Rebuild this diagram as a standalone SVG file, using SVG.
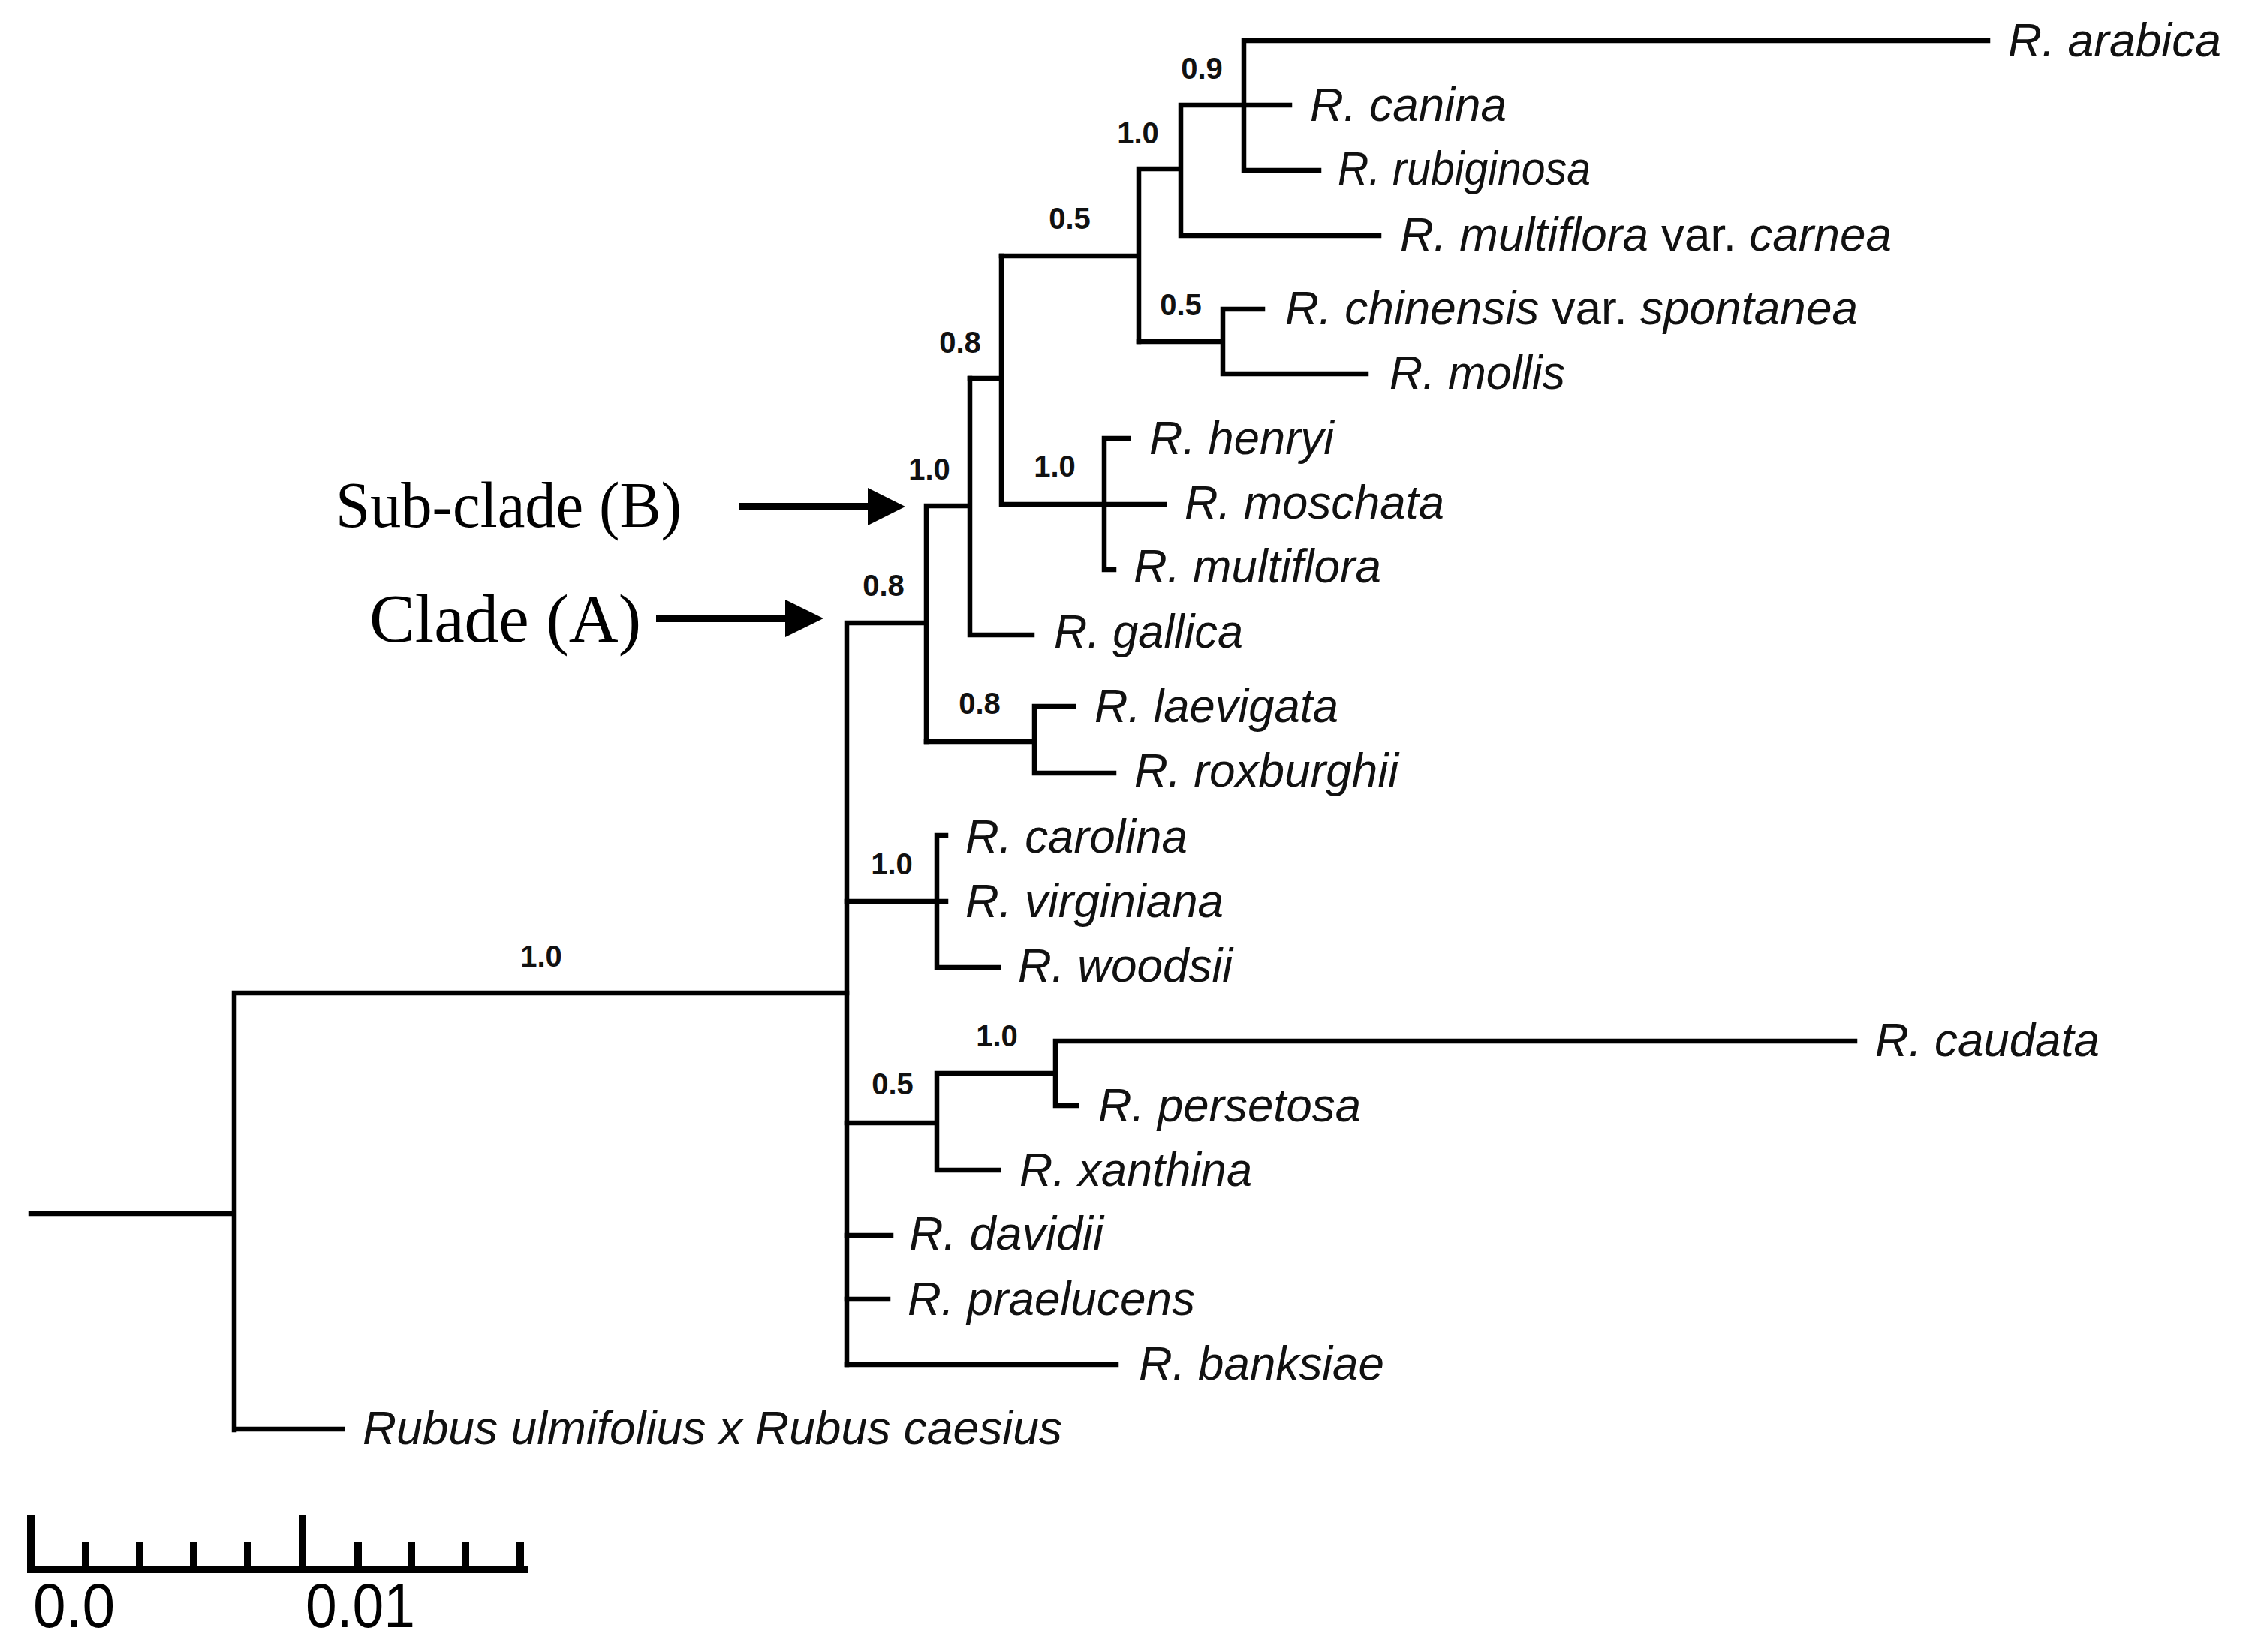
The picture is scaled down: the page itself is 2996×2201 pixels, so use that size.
<svg xmlns="http://www.w3.org/2000/svg" width="2996" height="2201" viewBox="0 0 2996 2201">
<style>
.br{fill:none;stroke:#000;stroke-width:6.5;stroke-linecap:square}
.tx{font-family:"Liberation Sans",Arial,sans-serif;font-style:italic;font-size:63px;fill:#111}
.up{font-style:normal}
.sv{font-family:"Liberation Sans",Arial,sans-serif;font-weight:bold;font-size:40px;fill:#111;text-anchor:middle}
.cl{font-family:"Liberation Serif","Times New Roman",serif;fill:#000}
.sc{font-family:"Liberation Sans",Arial,sans-serif;font-size:84px;fill:#000}
</style>
<rect width="2996" height="2201" fill="#fff"/>
<g id="connectors" class="br">
<path d="M41 1617H312M312 1323V1905M312 1323H1128M312 1904H456"/>
<path d="M1128 830V1818M1128 830H1234M1234 674V988M1234 674H1292M1292 504V846M1292 846H1375"/>
<path d="M1292 504H1334M1334 341V672M1334 672H1551M1471 584V759M1471 584H1503M1471 759H1484"/>
<path d="M1334 341H1517M1517 225V455M1517 225H1573M1573 140V314M1573 140H1718M1657 54V227M1657 54H2648M1657 227H1757M1573 314H1837"/>
<path d="M1517 455H1629M1629 412V498M1629 412H1682M1629 498H1820"/>
<path d="M1234 988H1378M1378 941V1030M1378 941H1430M1378 1030H1484"/>
<path d="M1128 1201H1260M1248 1113V1289M1248 1113H1260M1248 1289H1330"/>
<path d="M1128 1496H1248M1248 1430V1559M1248 1430H1406M1406 1387V1473M1406 1387H2471M1406 1473H1434M1248 1559H1330"/>
<path d="M1128 1646H1187M1128 1731H1183M1128 1818H1487"/>
</g>
<g id="taxa">
<g id="t-arabica"><text class="tx" x="2675" y="75" textLength="284" lengthAdjust="spacingAndGlyphs">R. arabica</text></g>
<g id="t-canina"><text class="tx" x="1745" y="161" textLength="262" lengthAdjust="spacingAndGlyphs">R. canina</text></g>
<g id="t-rubiginosa"><text class="tx" x="1782" y="246" textLength="337" lengthAdjust="spacingAndGlyphs">R. rubiginosa</text></g>
<g id="t-carnea"><text class="tx" x="1865" y="334" textLength="655" lengthAdjust="spacingAndGlyphs">R. multiflora <tspan class="up">var.</tspan> carnea</text></g>
<g id="t-chinensis"><text class="tx" x="1712" y="432" textLength="763" lengthAdjust="spacingAndGlyphs">R. chinensis <tspan class="up">var.</tspan> spontanea</text></g>
<g id="t-mollis"><text class="tx" x="1851" y="518" textLength="234" lengthAdjust="spacingAndGlyphs">R. mollis</text></g>
<g id="t-henryi"><text class="tx" x="1531" y="605" textLength="246" lengthAdjust="spacingAndGlyphs">R. henryi</text></g>
<g id="t-moschata"><text class="tx" x="1578" y="691" textLength="346" lengthAdjust="spacingAndGlyphs">R. moschata</text></g>
<g id="t-multiflora"><text class="tx" x="1510" y="776" textLength="330" lengthAdjust="spacingAndGlyphs">R. multiflora</text></g>
<g id="t-gallica"><text class="tx" x="1404" y="863" textLength="252" lengthAdjust="spacingAndGlyphs">R. gallica</text></g>
<g id="t-laevigata"><text class="tx" x="1458" y="962" textLength="325" lengthAdjust="spacingAndGlyphs">R. laevigata</text></g>
<g id="t-roxburghii"><text class="tx" x="1511" y="1048" textLength="352" lengthAdjust="spacingAndGlyphs">R. roxburghii</text></g>
<g id="t-carolina"><text class="tx" x="1286" y="1136" textLength="296" lengthAdjust="spacingAndGlyphs">R. carolina</text></g>
<g id="t-virginiana"><text class="tx" x="1286" y="1222" textLength="344" lengthAdjust="spacingAndGlyphs">R. virginiana</text></g>
<g id="t-woodsii"><text class="tx" x="1356" y="1308" textLength="286" lengthAdjust="spacingAndGlyphs">R. woodsii</text></g>
<g id="t-caudata"><text class="tx" x="2498" y="1407" textLength="299" lengthAdjust="spacingAndGlyphs">R. caudata</text></g>
<g id="t-persetosa"><text class="tx" x="1463" y="1494" textLength="350" lengthAdjust="spacingAndGlyphs">R. persetosa</text></g>
<g id="t-xanthina"><text class="tx" x="1358" y="1580" textLength="310" lengthAdjust="spacingAndGlyphs">R. xanthina</text></g>
<g id="t-davidii"><text class="tx" x="1211" y="1665" textLength="259" lengthAdjust="spacingAndGlyphs">R. davidii</text></g>
<g id="t-praelucens"><text class="tx" x="1209" y="1752" textLength="383" lengthAdjust="spacingAndGlyphs">R. praelucens</text></g>
<g id="t-banksiae"><text class="tx" x="1517" y="1838" textLength="327" lengthAdjust="spacingAndGlyphs">R. banksiae</text></g>
<g id="t-rubus"><text class="tx" x="483" y="1924" textLength="932" lengthAdjust="spacingAndGlyphs">Rubus ulmifolius x Rubus caesius</text></g>
</g>
<g id="support">
<g id="n-root"><text class="sv" x="721" y="1288">1.0</text></g>
<g id="n-cladeA"><text class="sv" x="1177" y="794">0.8</text></g>
<g id="n-subB"><text class="sv" x="1238" y="639">1.0</text></g>
<g id="n-upper08"><text class="sv" x="1279" y="470">0.8</text></g>
<g id="n-upper05"><text class="sv" x="1425" y="305">0.5</text></g>
<g id="n-canina10"><text class="sv" x="1516" y="191">1.0</text></g>
<g id="n-arabica09"><text class="sv" x="1601" y="105">0.9</text></g>
<g id="n-chinensis05"><text class="sv" x="1573" y="420">0.5</text></g>
<g id="n-henryi10"><text class="sv" x="1405" y="635">1.0</text></g>
<g id="n-laevigata08"><text class="sv" x="1305" y="951">0.8</text></g>
<g id="n-carolina10"><text class="sv" x="1188" y="1165">1.0</text></g>
<g id="n-xanthina05"><text class="sv" x="1189" y="1458">0.5</text></g>
<g id="n-caudata10"><text class="sv" x="1328" y="1394">1.0</text></g>
</g>
<g id="annotations">
<g id="subcladeB">
<text class="cl" x="447" y="702" font-size="86" textLength="461" lengthAdjust="spacingAndGlyphs">Sub-clade (B)</text>
<rect x="985" y="670" width="173" height="10" fill="#000"/>
<polygon points="1156,650 1206,675 1156,700" fill="#000"/>
</g>
<g id="cladeA">
<text class="cl" x="492" y="855" font-size="92" textLength="362" lengthAdjust="spacingAndGlyphs">Clade (A)</text>
<rect x="874" y="819" width="174" height="10" fill="#000"/>
<polygon points="1046,799 1097,824 1046,849" fill="#000"/>
</g>
</g>
<g id="scalebar">
<path d="M36 2091H704M41 2019V2091M403 2019V2091M114 2055V2091M186 2055V2091M258 2055V2091M330 2055V2091M477 2055V2091M548 2055V2091M620 2055V2091M693 2055V2091" fill="none" stroke="#000" stroke-width="10"/>
<text class="sc" x="44" y="2168" textLength="109" lengthAdjust="spacingAndGlyphs">0.0</text>
<text class="sc" x="407" y="2168" textLength="146" lengthAdjust="spacingAndGlyphs">0.01</text>
</g>
</svg>
